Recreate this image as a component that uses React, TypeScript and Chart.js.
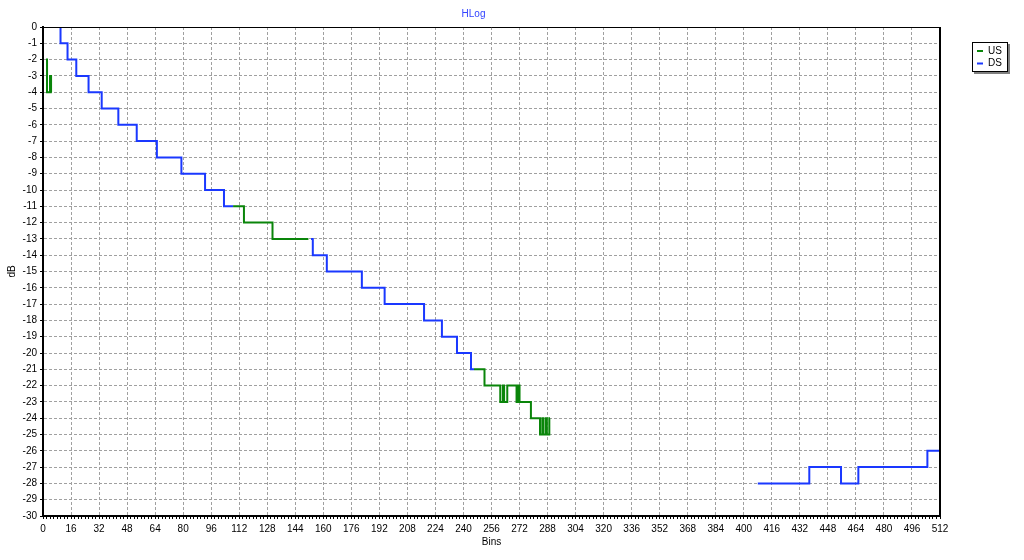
import React, { useEffect, useRef } from 'react';
import { Chart, registerables } from 'chart.js';
Chart.register(...registerables);

const chartTitle = 'HLog';
const xAxisTitle = 'Bins';
const yAxisTitle = 'dB';
const xMin = 0;
const xMax = 512;
const yMin = -30;
const yMax = 0;
const xLabelStep = 16;
const xMinorStep = 2;

const usLabel = 'US';
const usBins = [1.7, 2.3, 4, 4.6, 5, 6, 108.5, 114.7, 131, 151.5, 152, 246, 252, 261, 262.5, 263.2, 265, 270.3, 271, 272, 278.5, 283.7, 285, 285.6, 287, 287.6, 289, 289.4];
const usDb = [-2, -4, -3, -4, -4, null, -11, -12, -13, -13, null, -21, -22, -23, -22, -23, -22, -23, -22, -23, -24, -25, -24, -25, -24, -25, -24, -24];

const dsLabel = 'DS';
const dsBins = [4, 10, 14, 19, 26, 33.5, 43, 53.5, 65, 79, 92.5, 103.3, 108.5, 110, 153, 154, 162, 182, 195, 217.5, 227.7, 236.3, 244.3, 246, 250, 408, 437.4, 455.5, 465.4, 504.8, 511.5];
const dsDb = [0, -1, -2, -3, -4, -5, -6, -7, -8, -9, -10, -11, -11, null, -13, -14, -15, -16, -17, -18, -19, -20, -21, -21, null, -28, -27, -28, -27, -26, -26];

const xTickValues: number[] = [];
for (let v = xMin; v <= xMax; v += xMinorStep) xTickValues.push(v);

const FONT = "'Liberation Sans', Arial, sans-serif";
const GRID = '#a0a0a0';

const decor = {
  id: 'decor',
  afterDraw(chart: any) {
    const { ctx, chartArea: a } = chart;
    ctx.save();
    ctx.strokeStyle = '#000';
    ctx.lineWidth = 1;
    ctx.beginPath();
    ctx.moveTo(a.left, a.top + 0.5);
    ctx.lineTo(a.right, a.top + 0.5);
    ctx.stroke();
    ctx.lineWidth = 2;
    ctx.beginPath();
    ctx.moveTo(a.right, a.top);
    ctx.lineTo(a.right, a.bottom);
    ctx.stroke();
    ctx.fillStyle = '#3344ff';
    ctx.font = `10px ${FONT}`;
    ctx.textAlign = 'center';
    ctx.textBaseline = 'alphabetic';
    ctx.fillText(chartTitle, 473.5, 17);
    const lx = 972, ly = 42, lw = 36, lh = 30;
    ctx.fillStyle = '#808080';
    ctx.fillRect(lx + 2, ly + 2, lw, lh);
    ctx.fillStyle = '#fff';
    ctx.fillRect(lx, ly, lw, lh);
    ctx.strokeStyle = '#000';
    ctx.lineWidth = 1;
    ctx.strokeRect(lx + 0.5, ly + 0.5, lw - 1, lh - 1);
    ctx.textAlign = 'left';
    ctx.textBaseline = 'middle';
    chart.data.datasets.forEach((ds: any, i: number) => {
      const y = ly + 9 + i * 12.5;
      ctx.strokeStyle = ds.borderColor;
      ctx.lineWidth = 2;
      ctx.beginPath();
      ctx.moveTo(lx + 5, y);
      ctx.lineTo(lx + 11, y);
      ctx.stroke();
      ctx.fillStyle = '#000';
      ctx.fillText(ds.label, lx + 16, y);
    });
    ctx.restore();
  },
};

export default function App() {
  const ref = useRef<HTMLCanvasElement>(null);
  useEffect(() => {
    if (!ref.current) return;
    Chart.defaults.font.family = FONT;
    Chart.defaults.font.size = 10;
    Chart.defaults.color = '#000';
    const mk = (bins: number[], vals: (number | null)[]) => bins.map((b, i) => ({ x: b, y: vals[i] }));
    const chart = new Chart(ref.current, {
      type: 'line',
      data: {
        datasets: [
          {
            label: usLabel,
            data: mk(usBins, usDb) as any,
            borderColor: '#0a850a',
            borderWidth: 2,
            pointRadius: 0,
            stepped: 'before',
            spanGaps: false,
            fill: false,
          },
          {
            label: dsLabel,
            data: mk(dsBins, dsDb) as any,
            borderColor: '#1a38ff',
            borderWidth: 2,
            pointRadius: 0,
            stepped: 'before',
            spanGaps: false,
            fill: false,
          },
        ],
      },
      options: {
        responsive: false,
        animation: false,
        layout: { padding: { top: 27, right: 84, left: 0, bottom: 0 } },
        plugins: { legend: { display: false }, title: { display: false }, tooltip: { enabled: false } },
        scales: {
          x: {
            type: 'linear',
            min: xMin,
            max: xMax,
            afterBuildTicks: (s: any) => {
              s.ticks = xTickValues.map((v) => ({ value: v }));
            },
            afterFit: (s: any) => {
              s.height = 44;
            },
            ticks: {
              autoSkip: false,
              maxRotation: 0,
              padding: 4,
              color: '#000',
              callback: (v: any) => (Number(v) % xLabelStep === 0 ? String(v) : ''),
            },
            grid: {
              color: (c: any) => (c.tick && c.tick.value % xLabelStep === 0 ? GRID : 'rgba(0,0,0,0)'),
              tickColor: '#000',
              tickLength: 3,
            },
            border: { color: '#000', width: 2, dash: [3, 2] },
            title: { display: true, text: xAxisTitle, color: '#000', padding: { top: 0, bottom: 12 } },
          },
          y: {
            type: 'linear',
            min: yMin,
            max: yMax,
            afterFit: (s: any) => {
              s.width = 43;
            },
            ticks: { stepSize: 1, autoSkip: false, padding: 3, color: '#000' },
            grid: { color: GRID, tickColor: '#000', tickLength: 3 },
            border: { color: '#000', width: 2, dash: [3, 2] },
            title: { display: true, text: yAxisTitle, color: '#000', padding: { top: 6, bottom: 0 } },
          },
        },
      },
      plugins: [decor],
    });
    return () => chart.destroy();
  }, []);
  return (
    <div style={{ position: 'absolute', left: 0, top: 0, width: 1024, height: 560, background: '#fff' }}>
      <canvas ref={ref} width={1024} height={560} />
    </div>
  );
}
